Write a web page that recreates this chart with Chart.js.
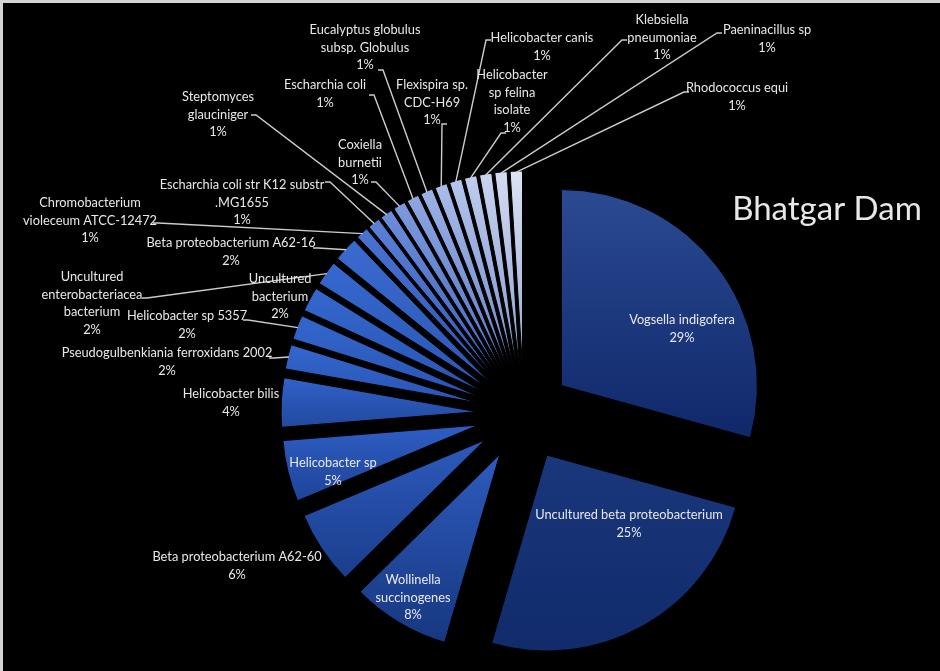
<!DOCTYPE html>
<html><head><meta charset="utf-8">
<script src="https://cdn.jsdelivr.net/npm/chart.js@4.4.1/dist/chart.umd.min.js"></script>
<style>html,body{margin:0;padding:0;background:#000;}canvas{display:block;}</style>
</head><body>
<canvas id="c" width="940" height="671"></canvas>
<script>
// ---- data ----
const categories = [
  "Vogsella indigofera","Uncultured beta proteobacterium","Wollinella succinogenes",
  "Beta proteobacterium A62-60","Helicobacter sp","Helicobacter bilis",
  "Pseudogulbenkiania ferroxidans 2002","Helicobacter sp 5357","Uncultured bacterium",
  "Uncultured enterobacteriacea bacterium","Beta proteobacterium A62-16",
  "Chromobacterium violeceum ATCC-12472","Escharchia coli str K12 substr .MG1655",
  "Steptomyces glauciniger","Coxiella burnetii","Escharchia coli",
  "Eucalyptus globulus subsp. Globulus","Flexispira sp. CDC-H69","Helicobacter canis",
  "Helicobacter sp felina isolate","Klebsiella pneumoniae","Paeninacillus sp","Rhodococcus equi"
];
const values = [29,25,8,6,5,4,2,2,2,2,2,1,1,1,1,1,1,1,1,1,1,1,1];
const labelLines = [
  ["Vogsella indigofera"],["Uncultured beta proteobacterium"],["Wollinella","succinogenes"],
  ["Beta proteobacterium A62-60"],["Helicobacter sp"],["Helicobacter bilis"],
  ["Pseudogulbenkiania ferroxidans 2002"],["Helicobacter sp 5357"],["Uncultured","bacterium"],
  ["Uncultured","enterobacteriacea","bacterium"],["Beta proteobacterium A62-16"],
  ["Chromobacterium","violeceum ATCC-12472"],["Escharchia coli str K12 substr",".MG1655"],
  ["Steptomyces","glauciniger"],["Coxiella","burnetii"],["Escharchia coli"],
  ["Eucalyptus globulus","subsp. Globulus"],["Flexispira sp.","CDC-H69"],["Helicobacter canis"],
  ["Helicobacter","sp felina","isolate"],["Klebsiella","pneumoniae"],["Paeninacillus sp"],["Rhodococcus equi"]
];
const titleText = "Bhatgar Dam";

// ---- styles / layout ----
const colorsTop = ["#2a4a92","#1a377c","#2d5bbd","#2c5abc","#2e5ec4","#3062c8",
  "#3366cc","#3366cc","#3467cd","#3568ce","#3a6bcf",
  "#4a72d2","#5c80d6","#6e8dda","#7e9ade","#8ea7e2","#9db3e6","#aabde9","#b6c5ec","#c1cdee","#cbd4f0","#d4dbf2","#dde2f4"];
const colorsBottom = ["#10286a","#112b6b","#173780","#1b3d8c","#1f4398","#2149a0",
  "#2a55b5","#2a55b5","#2a55b5","#2b56b6","#2c57b7",
  "#2c56b8","#3058b8","#3a5fbc","#4466c0","#4e6ec4","#5876c6","#6280c8","#6c88ca","#7690cc","#8098ce","#8aa0d0","#94a8d2"];
const labelPos = [[682,320],[629,515],[413,580],[237,557],[333,463],[231,394],[167,353],[187,316],[280,279],
  [92,277],[231,243],[90,203],[242,185],[218,97],[360,145],[325,85],[365,30],[432,85],[542,38],[512,75],[662,20],[767,30],[737,88]];
const leaderFrom = [null,null,null,null,null,null,[274,358],[248,320],null,[147,298],[318,248],[158,223],[330,182],
  [256,115],[376,182],[374,95],[383,70],[442,124],[486,40],[501,133],[622,40],[717,33],[684,92]];
const EXPLODE = 47, RADIUS = 196, LINE_H = 17.5;
const LABEL_FONT = "12.8px Lato", TEXT_COLOR = "#e8e8e8";

function sliceGeom(chart, i) {
  const ca = chart.chartArea;
  const cx = (ca.left + ca.right) / 2, cy = (ca.top + ca.bottom) / 2;
  const total = values.reduce((a, b) => a + b, 0);
  let cum = 0; for (let k = 0; k < i; k++) cum += values[k];
  const a0 = -Math.PI / 2 + cum / total * 2 * Math.PI;
  const a1 = a0 + values[i] / total * 2 * Math.PI;
  const mid = (a0 + a1) / 2;
  return {a0, a1, mid, tx: cx + EXPLODE * Math.cos(mid), ty: cy + EXPLODE * Math.sin(mid)};
}

const bgPlugin = {
  id: 'bg',
  beforeDraw(chart) {
    const c = chart.ctx; c.save();
    c.fillStyle = '#000'; c.fillRect(0, 0, chart.width, chart.height);
    c.fillStyle = '#d4d4d4'; c.fillRect(0, 0, chart.width, 3); c.fillRect(0, 0, 3, chart.height);
    c.restore();
  }
};
const explodePlugin = {
  id: 'explode',
  afterDatasetsUpdate(chart) {
    chart.getDatasetMeta(0).data.forEach(el => {
      const mid = (el.startAngle + el.endAngle) / 2;
      el.x += EXPLODE * Math.cos(mid); el.y += EXPLODE * Math.sin(mid);
    });
  }
};
const labelPlugin = {
  id: 'labels',
  afterDatasetsDraw(chart) {
    const c = chart.ctx;
    const total = values.reduce((a, b) => a + b, 0);
    const arcs = chart.getDatasetMeta(0).data;
    c.save();
    c.strokeStyle = '#cccccc'; c.lineWidth = 1.4;
    arcs.forEach((el, i) => {
      const f = leaderFrom[i]; if (!f) return;
      const mid = (el.startAngle + el.endAngle) / 2;
      const px = el.x + (el.outerRadius - 1) * Math.cos(mid), py = el.y + (el.outerRadius - 1) * Math.sin(mid);
      const s = px >= f[0] ? -5 : 5;
      c.beginPath(); c.moveTo(f[0] + s, f[1]); c.lineTo(f[0], f[1]); c.lineTo(px, py); c.stroke();
    });
    c.font = LABEL_FONT; c.fillStyle = TEXT_COLOR; c.textAlign = 'center'; c.textBaseline = 'middle';
    arcs.forEach((el, i) => {
      const lines = labelLines[i].concat([Math.round(values[i] / total * 100) + '%']);
      lines.forEach((t, k) => c.fillText(t, labelPos[i][0], labelPos[i][1] + k * LINE_H));
    });
    c.font = "33px Lato"; c.fillText(titleText, 827, 209);
    c.restore();
  }
};

new Chart(document.getElementById('c'), {
  type: 'pie',
  data: {
    labels: categories,
    datasets: [{
      data: values,
      borderColor: '#000',
      borderWidth: 1,
      backgroundColor: (ctx) => {
        if (ctx.type !== 'data') return '#2a55b5';
        const chart = ctx.chart, i = ctx.dataIndex;
        if (!chart.chartArea) return colorsTop[i];
        const g = sliceGeom(chart, i);
        let minY = g.ty, maxY = g.ty;
        for (let s = 0; s <= 30; s++) {
          const a = g.a0 + (g.a1 - g.a0) * s / 30;
          const y = g.ty + RADIUS * Math.sin(a);
          minY = Math.min(minY, y); maxY = Math.max(maxY, y);
        }
        const grad = chart.ctx.createLinearGradient(0, minY, 0, maxY + 0.01);
        grad.addColorStop(0, colorsTop[i]); grad.addColorStop(1, colorsBottom[i]);
        return grad;
      }
    }]
  },
  options: {
    responsive: false,
    animation: false,
    radius: RADIUS,
    layout: {padding: {left: 108, right: 0, top: 157, bottom: 0}},
    plugins: {legend: {display: false}, tooltip: {enabled: false}, title: {display: false}}
  },
  plugins: [bgPlugin, explodePlugin, labelPlugin]
});
</script>
</body></html>
